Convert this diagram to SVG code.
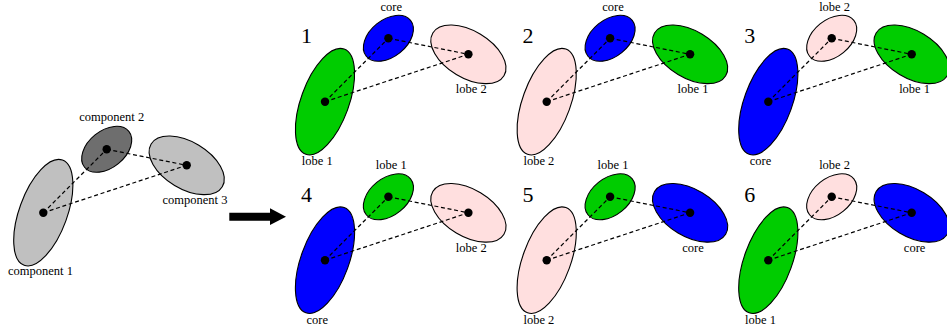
<svg xmlns="http://www.w3.org/2000/svg" width="947" height="332" viewBox="0 0 947 332">
<style>
.e{stroke:#000;stroke-width:1.1}
.gl{fill:#c0c0c0}
.gd{fill:#6e6e6e}
.gr{fill:#00cc00}
.bl{fill:#0000ff}
.pk{fill:#ffdfdf}
.dot{fill:#000}
.c{stroke:#000;stroke-width:1.2;stroke-dasharray:4 2.7;fill:none}
text{font-family:"Liberation Serif","Times New Roman",serif;fill:#000}
.lb{font-size:12.5px;text-anchor:middle}
.num{font-size:22px}
</style>

<!-- original figure -->
<g id="original">
<g id="component1"><ellipse class="e gl" cx="43.3" cy="212.7" rx="56" ry="24" transform="rotate(-70 43.3 212.7)"/><circle class="dot" cx="43.3" cy="212.7" r="4.2"/><text class="lb" x="40.5" y="275">component 1</text></g>
<g id="component2"><ellipse class="e gd" cx="106.7" cy="149.3" rx="28.5" ry="18.5" transform="rotate(-39 106.7 149.3)"/><circle class="dot" cx="106.7" cy="149.3" r="4.2"/><text class="lb" x="111.7" y="120.7">component 2</text></g>
<g id="component3"><ellipse class="e gl" cx="186.7" cy="165.3" rx="41.5" ry="23.5" transform="rotate(31 186.7 165.3)"/><circle class="dot" cx="186.7" cy="165.3" r="4.2"/><text class="lb" x="195" y="204">component 3</text></g>
<g id="original-connectors"><line class="c" x1="43.3" y1="212.7" x2="106.7" y2="149.3"/><line class="c" x1="43.3" y1="212.7" x2="186.7" y2="165.3"/><line class="c" x1="106.7" y1="149.3" x2="186.7" y2="165.3"/></g>
</g>

<g id="arrow"><polygon points="229.3,212.7 270,212.7 270,208.3 286,216.7 270,225 270,220.7 229.3,220.7" fill="#000"/></g>

<!-- panel 1 -->
<g id="panel1" transform="translate(281.7,-111)">
<text class="num" x="19.2" y="154.3">1</text>
<g id="p1-lobe1"><ellipse class="e gr" cx="43.3" cy="212.7" rx="56" ry="24" transform="rotate(-70 43.3 212.7)"/><circle class="dot" cx="43.3" cy="212.7" r="4.2"/><text class="lb" x="35.5" y="276">lobe 1</text></g>
<g id="p1-core"><ellipse class="e bl" cx="106.7" cy="149.3" rx="28.5" ry="18.5" transform="rotate(-39 106.7 149.3)"/><circle class="dot" cx="106.7" cy="149.3" r="4.2"/><text class="lb" x="109.6" y="121.5">core</text></g>
<g id="p1-lobe2"><ellipse class="e pk" cx="186.7" cy="165.3" rx="41.5" ry="23.5" transform="rotate(31 186.7 165.3)"/><circle class="dot" cx="186.7" cy="165.3" r="4.2"/><text class="lb" x="189.6" y="204.2">lobe 2</text></g>
<g id="p1-connectors"><line class="c" x1="43.3" y1="212.7" x2="106.7" y2="149.3"/><line class="c" x1="43.3" y1="212.7" x2="186.7" y2="165.3"/><line class="c" x1="106.7" y1="149.3" x2="186.7" y2="165.3"/></g>
</g>

<!-- panel 2 -->
<g id="panel2" transform="translate(503.4,-111)">
<text class="num" x="19.2" y="154.3">2</text>
<g id="p2-lobe2"><ellipse class="e pk" cx="43.3" cy="212.7" rx="56" ry="24" transform="rotate(-70 43.3 212.7)"/><circle class="dot" cx="43.3" cy="212.7" r="4.2"/><text class="lb" x="35.5" y="276">lobe 2</text></g>
<g id="p2-core"><ellipse class="e bl" cx="106.7" cy="149.3" rx="28.5" ry="18.5" transform="rotate(-39 106.7 149.3)"/><circle class="dot" cx="106.7" cy="149.3" r="4.2"/><text class="lb" x="109.6" y="121.5">core</text></g>
<g id="p2-lobe1"><ellipse class="e gr" cx="186.7" cy="165.3" rx="41.5" ry="23.5" transform="rotate(31 186.7 165.3)"/><circle class="dot" cx="186.7" cy="165.3" r="4.2"/><text class="lb" x="189.6" y="204.2">lobe 1</text></g>
<g id="p2-connectors"><line class="c" x1="43.3" y1="212.7" x2="106.7" y2="149.3"/><line class="c" x1="43.3" y1="212.7" x2="186.7" y2="165.3"/><line class="c" x1="106.7" y1="149.3" x2="186.7" y2="165.3"/></g>
</g>

<!-- panel 3 -->
<g id="panel3" transform="translate(725,-111)">
<text class="num" x="19.2" y="154.3">3</text>
<g id="p3-core"><ellipse class="e bl" cx="43.3" cy="212.7" rx="56" ry="24" transform="rotate(-70 43.3 212.7)"/><circle class="dot" cx="43.3" cy="212.7" r="4.2"/><text class="lb" x="35.5" y="276">core</text></g>
<g id="p3-lobe2"><ellipse class="e pk" cx="106.7" cy="149.3" rx="28.5" ry="18.5" transform="rotate(-39 106.7 149.3)"/><circle class="dot" cx="106.7" cy="149.3" r="4.2"/><text class="lb" x="109.6" y="121.5">lobe 2</text></g>
<g id="p3-lobe1"><ellipse class="e gr" cx="186.7" cy="165.3" rx="41.5" ry="23.5" transform="rotate(31 186.7 165.3)"/><circle class="dot" cx="186.7" cy="165.3" r="4.2"/><text class="lb" x="189.6" y="204.2">lobe 1</text></g>
<g id="p3-connectors"><line class="c" x1="43.3" y1="212.7" x2="106.7" y2="149.3"/><line class="c" x1="43.3" y1="212.7" x2="186.7" y2="165.3"/><line class="c" x1="106.7" y1="149.3" x2="186.7" y2="165.3"/></g>
</g>

<!-- panel 4 -->
<g id="panel4" transform="translate(281.7,47.5)">
<text class="num" x="19.2" y="154.3">4</text>
<g id="p4-core"><ellipse class="e bl" cx="43.3" cy="212.7" rx="56" ry="24" transform="rotate(-70 43.3 212.7)"/><circle class="dot" cx="43.3" cy="212.7" r="4.2"/><text class="lb" x="35.5" y="276">core</text></g>
<g id="p4-lobe1"><ellipse class="e gr" cx="106.7" cy="149.3" rx="28.5" ry="18.5" transform="rotate(-39 106.7 149.3)"/><circle class="dot" cx="106.7" cy="149.3" r="4.2"/><text class="lb" x="109.6" y="121.5">lobe 1</text></g>
<g id="p4-lobe2"><ellipse class="e pk" cx="186.7" cy="165.3" rx="41.5" ry="23.5" transform="rotate(31 186.7 165.3)"/><circle class="dot" cx="186.7" cy="165.3" r="4.2"/><text class="lb" x="189.6" y="204.2">lobe 2</text></g>
<g id="p4-connectors"><line class="c" x1="43.3" y1="212.7" x2="106.7" y2="149.3"/><line class="c" x1="43.3" y1="212.7" x2="186.7" y2="165.3"/><line class="c" x1="106.7" y1="149.3" x2="186.7" y2="165.3"/></g>
</g>

<!-- panel 5 -->
<g id="panel5" transform="translate(503.4,47.5)">
<text class="num" x="19.2" y="154.3">5</text>
<g id="p5-lobe2"><ellipse class="e pk" cx="43.3" cy="212.7" rx="56" ry="24" transform="rotate(-70 43.3 212.7)"/><circle class="dot" cx="43.3" cy="212.7" r="4.2"/><text class="lb" x="35.5" y="276">lobe 2</text></g>
<g id="p5-lobe1"><ellipse class="e gr" cx="106.7" cy="149.3" rx="28.5" ry="18.5" transform="rotate(-39 106.7 149.3)"/><circle class="dot" cx="106.7" cy="149.3" r="4.2"/><text class="lb" x="109.6" y="121.5">lobe 1</text></g>
<g id="p5-core"><ellipse class="e bl" cx="186.7" cy="165.3" rx="41.5" ry="23.5" transform="rotate(31 186.7 165.3)"/><circle class="dot" cx="186.7" cy="165.3" r="4.2"/><text class="lb" x="189.6" y="204.2">core</text></g>
<g id="p5-connectors"><line class="c" x1="43.3" y1="212.7" x2="106.7" y2="149.3"/><line class="c" x1="43.3" y1="212.7" x2="186.7" y2="165.3"/><line class="c" x1="106.7" y1="149.3" x2="186.7" y2="165.3"/></g>
</g>

<!-- panel 6 -->
<g id="panel6" transform="translate(725,47.5)">
<text class="num" x="19.2" y="154.3">6</text>
<g id="p6-lobe1"><ellipse class="e gr" cx="43.3" cy="212.7" rx="56" ry="24" transform="rotate(-70 43.3 212.7)"/><circle class="dot" cx="43.3" cy="212.7" r="4.2"/><text class="lb" x="35.5" y="276">lobe 1</text></g>
<g id="p6-lobe2"><ellipse class="e pk" cx="106.7" cy="149.3" rx="28.5" ry="18.5" transform="rotate(-39 106.7 149.3)"/><circle class="dot" cx="106.7" cy="149.3" r="4.2"/><text class="lb" x="109.6" y="121.5">lobe 2</text></g>
<g id="p6-core"><ellipse class="e bl" cx="186.7" cy="165.3" rx="41.5" ry="23.5" transform="rotate(31 186.7 165.3)"/><circle class="dot" cx="186.7" cy="165.3" r="4.2"/><text class="lb" x="189.6" y="204.2">core</text></g>
<g id="p6-connectors"><line class="c" x1="43.3" y1="212.7" x2="106.7" y2="149.3"/><line class="c" x1="43.3" y1="212.7" x2="186.7" y2="165.3"/><line class="c" x1="106.7" y1="149.3" x2="186.7" y2="165.3"/></g>
</g>
</svg>
